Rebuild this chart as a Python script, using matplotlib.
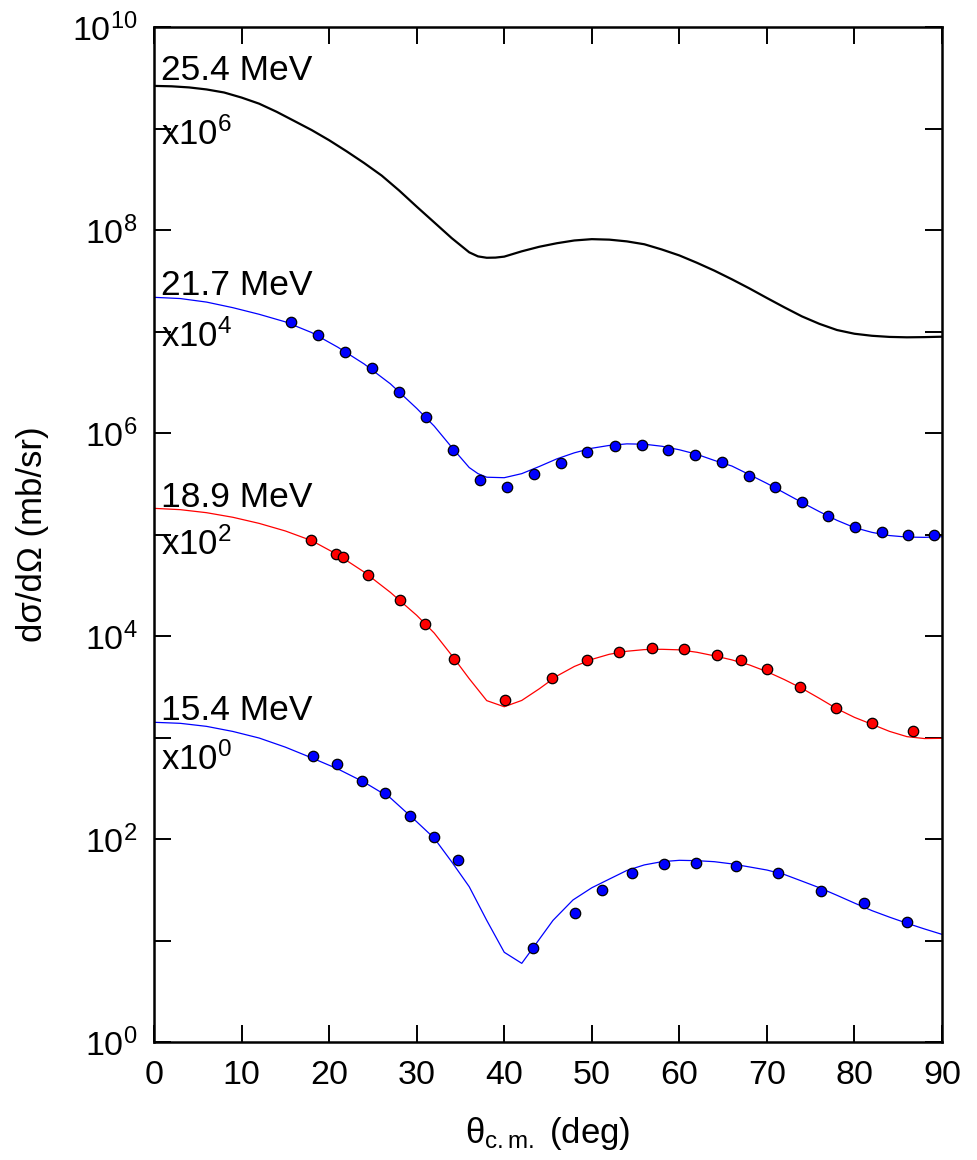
import matplotlib
matplotlib.use("Agg")
import matplotlib.pyplot as plt

plt.rcParams['font.family'] = ['Liberation Sans', 'DejaVu Sans']
plt.rcParams['mathtext.fontset'] = 'custom'
plt.rcParams['mathtext.rm'] = 'Liberation Sans'
plt.rcParams['mathtext.it'] = 'Liberation Sans:italic'
plt.rcParams['mathtext.bf'] = 'Liberation Sans:bold'

# 25.4 MeV (x10^6) - calculation only, mb/sr
th_254 = [0, 2, 4, 6, 8, 10, 12, 14, 16, 18, 20, 22, 24, 26, 28, 30, 32, 34, 36, 37, 38,
          39, 40, 42, 44, 46, 48, 50, 52, 54, 56, 58, 60, 62, 64, 66, 68, 70, 72, 74,
          76, 78, 80, 82, 84, 86, 88, 90]
fit_254 = [2630, 2606, 2541, 2427, 2265, 2018, 1758, 1462, 1189, 966, 767, 596, 457, 344,
           245, 170, 119, 83.2, 60.3, 55.0, 53.3, 53.5, 54.7, 61.7, 68.4, 74.1, 78.9,
           81.3, 80.4, 77.3, 72.4, 64.3, 56.2, 47.6, 39.8, 32.7, 26.6, 21.4, 17.3, 14.1,
           11.9, 10.35, 9.51, 9.08, 8.85, 8.77, 8.81, 8.89]

# 21.7 MeV (x10^4)
th_217 = [0, 3, 6, 9, 12, 15, 18, 21, 24, 27, 30, 32, 34, 36, 37, 38, 40, 42, 44, 46,
          48, 50, 52, 54, 56, 58, 60, 62, 64, 66, 68, 70, 72, 74, 76, 78, 80, 82, 84,
          86, 88, 90]
fit_217 = [2173, 2113, 1950, 1718, 1479, 1245, 977, 700, 479, 305, 175, 117, 72.4, 45.7,
           39.8, 36.7, 36.3, 39.8, 46.8, 55.6, 63.8, 70.8, 75.5, 78.2, 77.6, 74.1, 68.4,
           61.7, 53.7, 47.3, 38.9, 31.9, 25.7, 20.7, 16.8, 13.8, 11.7, 10.5, 9.77, 9.44,
           9.38, 9.51]
exp_th_217 = [15.61, 18.69, 21.81, 24.86, 27.94, 31.06, 34.18, 37.23, 40.32, 43.43, 46.5,
              49.5, 52.65, 55.7, 58.76, 61.8, 64.86, 67.9, 70.96, 74.0, 77.0, 80.1, 83.1,
              86.1, 89.1]
exp_217 = [1233, 931, 624, 441, 255, 143, 68.1, 34.2, 29.4, 39.4, 50.6,
           65.5, 74.0, 75.7, 68.5, 61.2, 51.8, 37.4, 29.6, 20.7, 15.3, 11.8, 10.5,
           9.95, 9.95]

# 18.9 MeV (x10^2)
th_189 = [0, 3, 6, 9, 12, 15, 18, 21, 24, 27, 30, 32, 34, 36, 38, 40, 42, 44, 46, 48,
          50, 52, 54, 56, 58, 60, 62, 64, 66, 68, 70, 72, 74, 76, 78, 80, 82, 84, 86,
          88, 90]
fit_189 = [1811, 1758, 1641, 1479, 1288, 1084, 871, 631, 427, 269, 160, 107, 64.6, 38.0,
           23.1, 20.1, 23.2, 30.2, 40.3, 50.1, 58.9, 66.1, 70.8, 73.5, 74.0, 73.1, 69.2,
           63.8, 58.2, 51.9, 44.6, 37.2, 30.5, 24.3, 19.2, 15.8, 13.5, 11.5, 10.2, 9.77,
           9.82]
exp_th_189 = [17.93, 20.75, 21.59, 24.44, 28.13, 30.95, 34.26, 40.05, 45.45, 49.45, 53.14,
              56.84, 60.53, 64.26, 67.08, 69.97, 73.78, 77.9, 81.96, 86.72]
exp_189 = [889, 647, 600, 402, 228, 131, 59.7, 23.2, 38.3, 58.1, 69.5,
           76.7, 74.5, 64.6, 58.1, 47.0, 31.2, 19.4, 14.0, 11.6]

# 15.4 MeV (x10^0)
th_154 = [0, 3, 6, 9, 12, 15, 18, 21, 24, 27, 30, 32, 34, 36, 38, 40, 42, 43.3, 45.57,
          47.85, 50, 52, 54, 56, 58, 60, 62, 64, 66, 68, 70, 72, 74, 76, 78, 80, 82, 84,
          86, 88, 90]
fit_154 = [1413, 1380, 1288, 1148, 989, 804, 631, 490, 363, 254, 148, 102, 59.6, 33.9,
           15.8, 7.66, 5.96, 8.49, 15.8, 25.1, 33.1, 40.3, 49.0, 55.6, 59.8, 61.7, 61.2,
           59.8, 56.9, 53.1, 49.5, 44.7, 38.5, 33.1, 27.9, 23.4, 19.7, 17.0, 14.8, 13.0,
           11.5]
exp_th_154 = [18.12, 20.94, 23.72, 26.42, 29.24, 31.94, 34.76, 43.32, 48.08, 51.2, 54.63,
              58.25, 61.86, 66.47, 71.27, 76.14, 81.05, 86.03]
exp_154 = [658, 548, 370, 282, 170, 105, 61.7, 8.49, 18.5, 31.5, 46.2,
           57.1, 58.1, 53.8, 45.9, 30.8, 23.6, 15.1]

energies = ["25.4 MeV", "21.7 MeV", "18.9 MeV", "15.4 MeV"]
powers = [6, 4, 2, 0]

fig = plt.figure(figsize=(9.78, 11.6), dpi=100)
ax = fig.add_axes([0.1575, 0.1017, 0.8057, 0.875])

ax.plot(th_254, [v * 1e6 for v in fit_254], color='black', lw=1.6)
ax.plot(th_217, [v * 1e4 for v in fit_217], color='blue', lw=0.9)
ax.plot(th_189, [v * 1e2 for v in fit_189], color='red', lw=0.9)
ax.plot(th_154, fit_154, color='blue', lw=0.9)

mk = dict(ls='none', marker='o', ms=7.5, mec='black', mew=0.9)
ax.plot(exp_th_217, [v * 1e4 for v in exp_217], mfc='blue', **mk)
ax.plot(exp_th_189, [v * 1e2 for v in exp_189], mfc='red', **mk)
ax.plot(exp_th_154, exp_154, mfc='blue', **mk)

# label baselines (log10 of the axis value)
name_y = [9.478, 7.36, 5.274, 3.172]
fac_y = [8.837, 6.847, 4.798, 2.68]
for e, p, ny, fy in zip(energies, powers, name_y, fac_y):
    ax.text(0.8, 10 ** ny, e, fontsize=25.5, va='baseline', ha='left')
    ax.text(0.8, 10 ** fy, "x10$^{%d}$" % p, fontsize=25, va='baseline', ha='left')

ax.set_yscale('log')
ax.set_xlim(0, 90)
ax.set_ylim(1, 1e10)
ax.set_xticks(range(0, 91, 10))
ax.set_yticks([10 ** k for k in range(11)])
ax.set_yticklabels(["$10^{%d}$" % k if k % 2 == 0 else "" for k in range(11)])
ax.yaxis.set_minor_locator(matplotlib.ticker.NullLocator())

ax.tick_params(direction='in', length=12, width=1.4, top=True, right=True,
               labelsize=24.5)
ax.tick_params(axis='x', pad=13)
ax.tick_params(axis='y', pad=12)
for s in ax.spines.values():
    s.set_linewidth(1.8)

ax.set_xlabel("θ$_{\\mathrm{c.m.}}$ (deg)", fontsize=25)
ax.set_ylabel("dσ/dΩ (mb/sr)", fontsize=25)
ax.xaxis.set_label_coords(0.5, -0.072)
ax.yaxis.set_label_coords(-0.133, 0.5)

fig.savefig("out.png", dpi=100)
